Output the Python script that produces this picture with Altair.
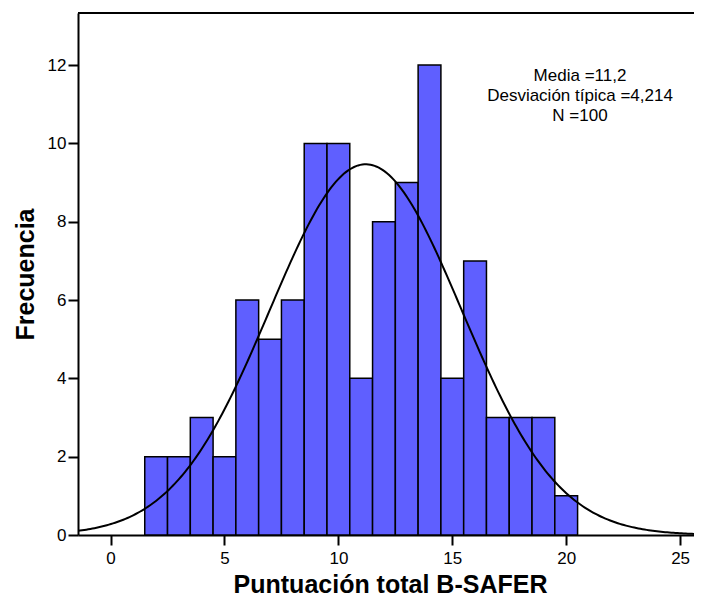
import altair as alt
import numpy as np
import pandas as pd

# Histogram data (bin centers, counts)
scores = [2, 3, 4, 5, 6, 7, 8, 9, 10, 11, 12, 13, 14, 15, 16, 17, 18, 19, 20]
counts = [2, 2, 3, 2, 6, 5, 6, 10, 10, 4, 8, 9, 12, 4, 7, 3, 3, 3, 1]
mean = 11.2
sd = 4.214
n = 100
stats_lines = ["Media =11,2", "Desviación típica =4,214", "N =100"]

XMIN, XMAX = -1.43, 25.61

bars = pd.DataFrame({
    "x0": [s - 0.5 for s in scores],
    "x1": [s + 0.5 for s in scores],
    "count": counts,
})

xs = np.linspace(XMIN, XMAX, 300)
ys = n * 1.0 * np.exp(-0.5 * ((xs - mean) / sd) ** 2) / (sd * np.sqrt(2 * np.pi))
curve = pd.DataFrame({"x": xs, "y": ys})

xscale = alt.Scale(domain=[XMIN, XMAX], nice=False, zero=False)
yscale = alt.Scale(domain=[0, 13.33], nice=False)

font = "Liberation Sans"
W, H = 616, 522

xaxis = alt.Axis(values=[0, 5, 10, 15, 20, 25], title="Puntuación total B-SAFER",
                 grid=False, tickSize=10, tickWidth=2, tickColor="black",
                 domainColor="black", domainWidth=2, labelFontSize=17,
                 labelColor="black", labelFont=font, labelPadding=5,
                 titleFont=font, titleFontSize=25, titleFontWeight="bold",
                 titleColor="black", titleX=312, titleY=57,
                 titleAlign="center", titleBaseline="alphabetic")
yaxis = alt.Axis(values=[0, 2, 4, 6, 8, 10, 12], title="Frecuencia",
                 grid=False, tickSize=10, tickWidth=2, tickColor="black",
                 domainColor="black", domainWidth=2, labelFontSize=17,
                 labelColor="black", labelFont=font, labelPadding=2,
                 titleFont=font, titleFontSize=25, titleFontWeight="bold",
                 titleColor="black", titleX=-53, titleY=261, titleAngle=270,
                 titleAlign="center", titleBaseline="middle")

hist = alt.Chart(bars).mark_rect(fill="#5f5fff", stroke="black", strokeWidth=1.5).encode(
    x=alt.X("x0:Q", scale=xscale, axis=xaxis),
    x2="x1:Q",
    y=alt.Y("count:Q", scale=yscale, axis=yaxis),
    y2=alt.datum(0),
)

line = alt.Chart(curve).mark_line(color="black", strokeWidth=2, clip=True).encode(
    x=alt.X("x:Q", scale=xscale),
    y=alt.Y("y:Q", scale=yscale),
)

text_layers = []
for t, yy in zip(stats_lines, [63, 83, 103]):
    text_layers.append(
        alt.Chart(pd.DataFrame({"t": [t]})).mark_text(
            font=font, fontSize=17, color="black", align="center", baseline="middle"
        ).encode(x=alt.value(502), y=alt.value(yy), text="t:N")
    )

topline = alt.Chart(pd.DataFrame({"a": [0]})).mark_rule(color="black", strokeWidth=2).encode(
    x=alt.value(0), x2=alt.value(W), y=alt.value(0)
)

chart = alt.layer(hist, line, *text_layers, topline).properties(
    width=W, height=H,
    autosize=alt.AutoSizeParams(type="none"),
    padding={"left": 70, "top": 5, "right": 0, "bottom": 63},
).configure_view(stroke=None).configure(background="white")

chart.save("out.html", embed_options={"renderer": "svg", "actions": False})
